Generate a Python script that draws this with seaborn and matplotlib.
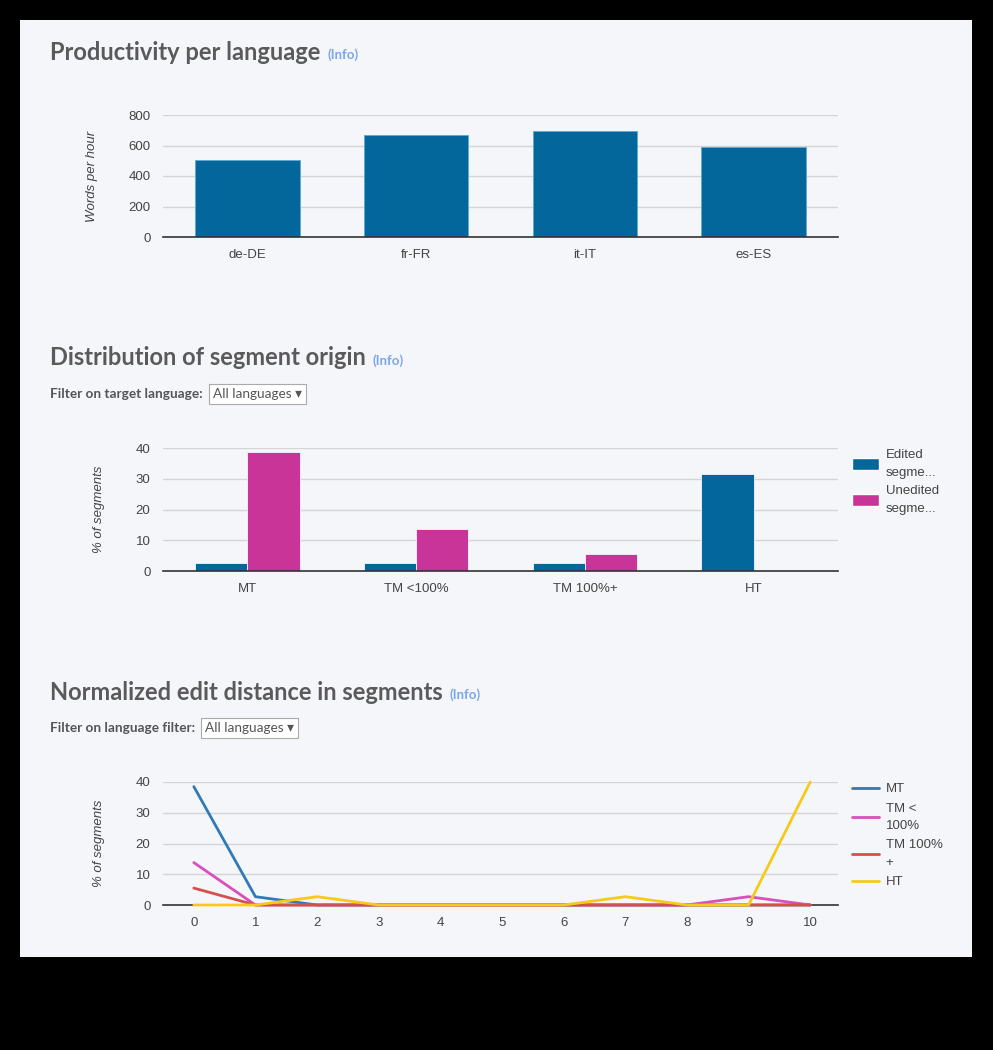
import pandas as pd
import seaborn as sns
import matplotlib.pyplot as plt
from matplotlib.patches import Rectangle, Patch
from matplotlib.lines import Line2D

# productivity per language
languages = ["de-DE", "fr-FR", "it-IT", "es-ES"]
words_per_hour = [505, 669, 695, 590]

# distribution of segment origin
origins = ["MT", "TM <100%", "TM 100%+", "HT"]
edited = [2.6, 2.6, 2.6, 31.5]
unedited = [38.7, 13.6, 5.5, 0]

# normalized edit distance
distance = [0, 1, 2, 3, 4, 5, 6, 7, 8, 9, 10]
mt = [38.5, 2.7, 0, 0, 0, 0, 0, 0, 0, 0, 0]
tm_partial = [13.8, 0, 0, 0, 0, 0, 0, 0, 0, 2.7, 0]
tm_full = [5.5, 0, 0, 0, 0, 0, 0, 0, 0, 0, 0]
ht = [0, 0, 2.7, 0, 0, 0, 0, 2.7, 0, 0, 40]

W, H = 993, 1050
BG = "#f5f6fa"
BLUE = "#03679c"
PINK = "#c93499"
GREY_TXT = "#444444"
TICK_FS = 9.5

sns.set_style("white")
plt.rcParams["font.family"] = ["Liberation Sans", "DejaVu Sans"]

fig = plt.figure(figsize=(W / 100, H / 100), dpi=100)
fig.patch.set_facecolor("black")
fig.patches.append(Rectangle((20 / W, 1 - 957 / H), 952 / W, 937 / H,
                             transform=fig.transFigure, fc=BG, ec="none", zorder=-10))


def fx(x):
    return x / W


def fy(y):
    return 1 - y / H


def make_axes(top, bottom):
    ax = fig.add_axes([fx(163), fy(bottom), fx(838) - fx(163), (bottom - top) / H])
    ax.set_facecolor(BG)
    for s in ["top", "right", "left"]:
        ax.spines[s].set_visible(False)
    ax.spines["bottom"].set_color("#333333")
    ax.spines["bottom"].set_linewidth(1.2)
    ax.yaxis.grid(True, color="#d5d5d5", linewidth=1)
    ax.set_axisbelow(True)
    return ax


def finish_axes(ax, ylabel):
    ax.set_xlabel("")
    ax.set_ylabel(ylabel, style="italic", fontsize=TICK_FS, color=GREY_TXT, labelpad=22)
    ax.tick_params(axis="y", length=0, labelsize=TICK_FS, labelcolor=GREY_TXT, pad=9)
    ax.tick_params(axis="x", length=0, labelsize=TICK_FS, labelcolor=GREY_TXT, pad=9)


def style_legend(leg):
    for t in leg.get_texts():
        t.set_linespacing(1.6)


# chart 1
ax1 = make_axes(115, 237)
df1 = pd.DataFrame({"language": languages, "wph": words_per_hour})
sns.barplot(data=df1, x="language", y="wph", color=BLUE, saturation=1, width=0.62,
            edgecolor="#5fa8d3", linewidth=0.6, ax=ax1)
ax1.set_ylim(0, 800)
ax1.set_yticks([0, 200, 400, 600, 800])
finish_axes(ax1, "Words per hour")

# chart 2
ax2 = make_axes(448, 571)
df2 = pd.DataFrame({
    "origin": origins * 2,
    "value": edited + unedited,
    "kind": ["Edited segments"] * 4 + ["Unedited segments"] * 4,
})
sns.barplot(data=df2, x="origin", y="value", hue="kind", palette=[BLUE, PINK],
            saturation=1, width=0.62, edgecolor=BG, linewidth=0.6, ax=ax2, legend=False)
ax2.set_ylim(0, 40)
ax2.set_yticks([0, 10, 20, 30, 40])
finish_axes(ax2, "% of segments")
handles2 = [Patch(fc=BLUE), Patch(fc=PINK)]
leg2 = ax2.legend(handles2, ["Edited\nsegme...", "Unedited\nsegme..."], loc="upper left",
                  bbox_to_anchor=(1.02, 0.99), frameon=False, fontsize=TICK_FS,
                  handlelength=2.1, handleheight=1.0, handletextpad=0.5, labelspacing=0.5,
                  labelcolor=GREY_TXT, borderaxespad=0, borderpad=0)
style_legend(leg2)

# chart 3
ax3 = make_axes(782, 905)
line_colors = ["#2f7ab7", "#d94fbc", "#d6504a", "#f8c91d"]
series = ["MT", "TM <\n100%", "TM 100%\n+", "HT"]
df3 = pd.DataFrame({
    "distance": distance * 4,
    "value": mt + tm_partial + tm_full + ht,
    "origin": [s for s in series for _ in distance],
})
sns.lineplot(data=df3, x="distance", y="value", hue="origin", palette=line_colors,
             linewidth=2, ax=ax3, legend=False, zorder=3)
for ln in ax3.lines:
    ln.set_clip_on(False)
ax3.set_xlim(-0.5, 10.45)
ax3.set_ylim(0, 40)
ax3.set_yticks([0, 10, 20, 30, 40])
ax3.set_xticks(distance)
finish_axes(ax3, "% of segments")
handles3 = [Line2D([], [], color=c, linewidth=2) for c in line_colors]
leg3 = ax3.legend(handles3, series, loc="upper left", bbox_to_anchor=(1.02, 0.99), frameon=False,
                  fontsize=TICK_FS, handlelength=2.1, handletextpad=0.5, labelspacing=0.55,
                  labelcolor=GREY_TXT, borderaxespad=0, borderpad=0)
style_legend(leg3)

# headings, info links, filters
title_kw = dict(fontsize=17, fontweight="bold", color="#5a5a5a", family=["Lato", "DejaVu Sans"],
                va="center", ha="left")
titles = [("Productivity per language", 52), ("Distribution of segment origin", 358),
          ("Normalized edit distance in segments", 692)]
fig.canvas.draw()
renderer = fig.canvas.get_renderer()
for text, y in titles:
    t = fig.text(fx(50), fy(y), text, **title_kw)
    bb = t.get_window_extent(renderer)
    fig.text(bb.x1 / W + fx(7), fy(y + 3), "(Info)", fontsize=9.5, fontweight="bold",
             color="#7aa6ea", family=["Lato", "DejaVu Sans"], va="center", ha="left")

filters = [("Filter on target language:", 394), ("Filter on language filter:", 728)]
for text, y in filters:
    t = fig.text(fx(50), fy(y), text, fontsize=9.8, fontweight="bold", color="#555555",
                 family=["Lato", "DejaVu Sans"], va="center", ha="left")
    bb = t.get_window_extent(renderer)
    fig.text(bb.x1 / W + fx(10), fy(y), "All languages \u25BE", fontsize=9.8, color="#555555",
             family=["Lato", "DejaVu Sans"], va="center", ha="left",
             bbox=dict(boxstyle="square,pad=0.3", fc="white", ec="#aaaaaa", lw=0.8))

fig.savefig("out.png", dpi=100, facecolor=fig.get_facecolor())
